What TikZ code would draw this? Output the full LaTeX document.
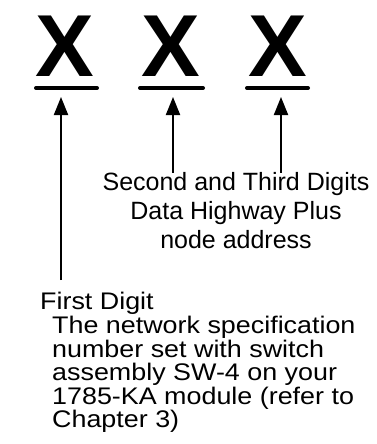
\documentclass[tikz,border=0pt]{standalone}
\usepackage{fontspec}
\setmainfont{Liberation Sans}
\newfontfamily\widesans[FakeStretch=1.12]{Liberation Sans}
\usetikzlibrary{arrows.meta,positioning}
\tikzstyle{digit}=[inner sep=0,anchor=base,font=\fontsize{88}{88}\selectfont\bfseries]
\tikzstyle{bar}=[draw,line width=4,line cap=round]
\tikzstyle{ptr}=[line width=2,-{Triangle[length=18,width=14]}]
\tikzstyle{note}=[inner sep=0,font=\fontsize{25}{29}\selectfont]
\tikzstyle{small note}=[inner sep=0,font=\widesans\fontsize{24}{23.5}\selectfont]

\begin{document}
\begin{tikzpicture}[x=1pt,y=-1pt]
		\useasboundingbox (0,0) rectangle (377,444);

		% the three digits
		\node[digit] (xA) at (65,77) {X};
		\node[digit] (xB) at (171,77) {X};
		\node[digit] (xC) at (278,77) {X};

		% underlines
		\draw[bar] (36,88) coordinate (barAl) -- (97,88) coordinate (barAr);
		\draw[bar] (140,88) coordinate (barBl) -- (203,88) coordinate (barBr);
		\draw[bar] (247,88) coordinate (barCl) -- (308,88) coordinate (barCr);
		\coordinate (tipA) at (61,97);
		\coordinate (tipB) at (173,97);
		\coordinate (tipC) at (281,97);

		% descriptions
		\node[note,align=center] (upper) at (236,211)
		    {Second and Third Digits\\Data Highway Plus\\node address};
		\node[small note,anchor=north west] (first) at (40,292) {First Digit};
		\node[small note,anchor=north west,align=left] (lower) at (52,316)
		    {The network specification\\number set with switch\\assembly SW-4 on your\\1785-KA module (refer to\\Chapter 3)};

		% pointers
		\draw[ptr] (upper.north -| tipB) -- (tipB);
		\draw[ptr] (upper.north -| tipC) -- (tipC);
		\draw[ptr] ([yshift=12]first.north -| tipA) -- (tipA);
\end{tikzpicture}
\end{document}
